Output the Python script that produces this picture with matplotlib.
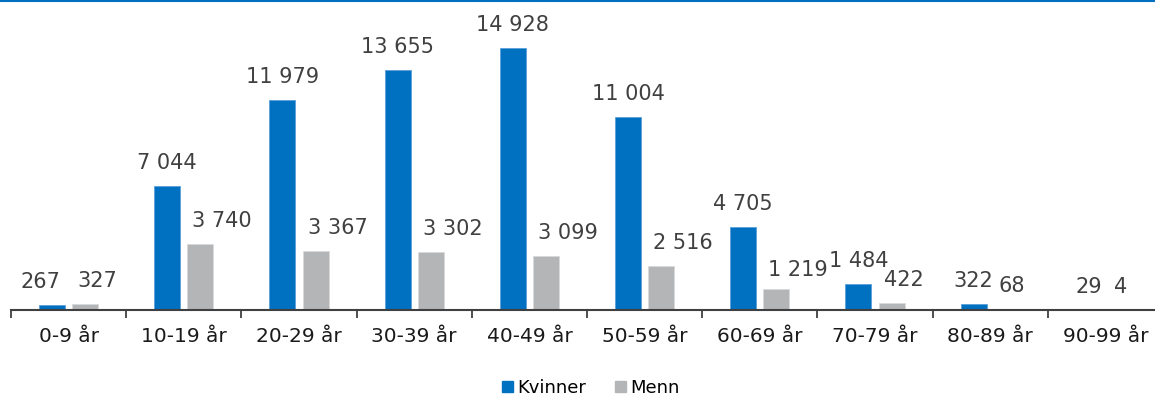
import matplotlib
matplotlib.use("Agg")
import matplotlib.pyplot as plt
from matplotlib.lines import Line2D
from matplotlib.patches import Patch
import numpy as np

categories = ["0-9 år", "10-19 år", "20-29 år", "30-39 år", "40-49 år",
              "50-59 år", "60-69 år", "70-79 år", "80-89 år", "90-99 år"]
kvinner = [267, 7044, 11979, 13655, 14928, 11004, 4705, 1484, 322, 29]
menn = [327, 3740, 3367, 3302, 3099, 2516, 1219, 422, 68, 4]
series_names = ["Kvinner", "Menn"]

BLUE = "#0070C0"
GREY = "#B4B5B7"
TEXT = "#404040"

plt.rcParams["font.family"] = ["DejaVu Sans"]

W, H = 1155, 396
fig = plt.figure(figsize=(W / 100, H / 100), dpi=100)
ax = fig.add_axes([11 / W, 86 / H, 1152 / W, 280.8 / H])

x = np.arange(len(categories))
bw = 0.226
off = 0.144
ax.bar(x - off, kvinner, bw, color=BLUE, edgecolor="#5AA0DA", linewidth=0.6)
ax.bar(x + off, menn, bw, color=GREY, edgecolor="#D8D9DA", linewidth=0.6)

ax.set_xlim(-0.5, len(categories) - 0.5)
ax.set_ylim(0, 16000)


def fmt(v):
    return f"{v:,}".replace(",", " ")


# value labels: women centred over their bars, men starting near the bar's left edge
for i, v in enumerate(kvinner):
    dx = -12 if i == 0 else 0
    ax.annotate(fmt(v), (x[i] - off, v), xytext=(dx * 0.72, 12.2),
                textcoords="offset points", ha="center", va="baseline",
                fontsize=15, color=TEXT, clip_on=False)
for i, v in enumerate(menn):
    dy = 9.3 if i == 6 else 12.2
    ax.annotate(fmt(v), (x[i] + off - bw / 2, v), xytext=(5 * 0.72, dy),
                textcoords="offset points", ha="left", va="baseline",
                fontsize=15, color=TEXT, clip_on=False)

for s in ["top", "right", "left"]:
    ax.spines[s].set_visible(False)
ax.spines["bottom"].set_color(TEXT)
ax.spines["bottom"].set_linewidth(1.5)
ax.set_yticks([])

ax.set_xticks(x)
ax.set_xticklabels(categories, fontsize=14.5, color="#1A1A1A")
ax.tick_params(axis="x", which="major", length=0, pad=12)
ax.set_xticks(np.arange(-0.5, len(categories), 1.0), minor=True)
ax.tick_params(axis="x", which="minor", length=6, width=1.3, color=TEXT,
               direction="out")

handles = [Patch(facecolor=BLUE, edgecolor=BLUE), Patch(facecolor=GREY, edgecolor=GREY)]
fig.legend(handles, series_names, loc="center", bbox_to_anchor=(591 / W, 1 - 388 / H),
           ncol=2, frameon=False, fontsize=13, handlelength=0.6, handleheight=0.6,
           handletextpad=0.25, columnspacing=1.6, borderaxespad=0, borderpad=0)

# thin accent rule along the top edge
fig.add_artist(Line2D([0, 1], [1 - 0.8 / H, 1 - 0.8 / H], transform=fig.transFigure,
                      color=BLUE, linewidth=1.5))

fig.savefig("out.png", dpi=100)
